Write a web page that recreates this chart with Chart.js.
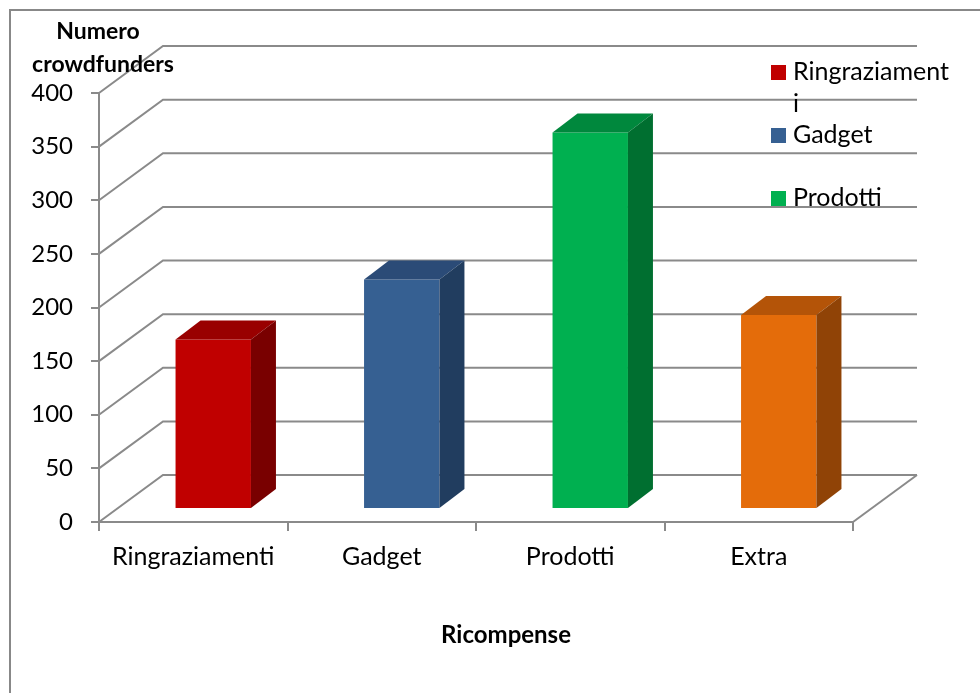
<!DOCTYPE html>
<html>
<head>
<meta charset="utf-8">
<script src="https://cdn.jsdelivr.net/npm/chart.js@4/dist/chart.umd.min.js"></script>
<style>
  html, body { margin: 0; padding: 0; background: #fff; }
  #wrap { width: 980px; height: 693px; position: relative; }
</style>
</head>
<body>
<div id="wrap"><canvas id="chart"></canvas></div>
<script>
// --- data ---
const categories = ['Ringraziamenti', 'Gadget', 'Prodotti', 'Extra'];
const crowdfunders = [158, 214, 351, 181];
const yMin = 0, yMax = 400, yStep = 50;
const legendLabels = [['Ringraziament', 'i'], ['Gadget'], ['Prodotti']];
const yTitle = ['Numero', 'crowdfunders'];
const xTitle = 'Ricompense';

// --- styles ---
const frontColors = ['#C00000', '#366092', '#00B050', '#E46C0A'];
const topColors = ['#990000', '#2B4B77', '#00883D', '#B45408'];
const sideColors = ['#790000', '#213D5F', '#006F30', '#904306'];
const gridColor = '#8a8a8a';
const FONT = 'Lato';
const wallDX = 64, wallDY = -47;   // depth of the back wall
const barDX = 20, barDY = -13;     // bars sit a bit behind the front plane
const faceDX = 25, faceDY = -19;   // bar depth

const wallPlugin = {
    id: 'wall',
    beforeDraw(chart) {
        const ctx = chart.ctx;
        ctx.save();
        ctx.fillStyle = '#fff';
        ctx.fillRect(0, 0, chart.width, chart.height);
        // outer frame
        ctx.strokeStyle = '#888';
        ctx.lineWidth = 2;
        ctx.strokeRect(10, 10, chart.width + 20, chart.height + 20);
        ctx.restore();
    },
    beforeDatasetsDraw(chart) {
        const ctx = chart.ctx;
        const a = chart.chartArea;
        const ys = chart.scales.y;
        ctx.save();
        ctx.strokeStyle = gridColor;
        ctx.lineWidth = 2;
        for (let v = yMin; v <= yMax; v += yStep) {
            const y = ys.getPixelForValue(v);
            ctx.beginPath();
            ctx.moveTo(a.left, y);
            ctx.lineTo(a.left + wallDX, y + wallDY);
            ctx.lineTo(a.right + wallDX, y + wallDY);
            ctx.stroke();
        }
        // floor right edge
        ctx.beginPath();
        ctx.moveTo(a.right, a.bottom);
        ctx.lineTo(a.right + wallDX, a.bottom + wallDY);
        ctx.stroke();
        ctx.restore();

        // shift bars into depth
        ctx.save();
        ctx.translate(barDX, barDY);
    },
    afterDatasetsDraw(chart) {
        const ctx = chart.ctx;
        const meta = chart.getDatasetMeta(0);
        meta.data.forEach((bar, i) => {
            const p = bar.getProps(['x', 'y', 'base', 'width'], true);
            const l = p.x - p.width / 2, r = p.x + p.width / 2;
            const t = p.y, b = p.base;
            ctx.fillStyle = topColors[i];
            ctx.beginPath();
            ctx.moveTo(l, t);
            ctx.lineTo(l + faceDX, t + faceDY);
            ctx.lineTo(r + faceDX, t + faceDY);
            ctx.lineTo(r, t);
            ctx.closePath();
            ctx.fill();
            ctx.fillStyle = sideColors[i];
            ctx.beginPath();
            ctx.moveTo(r, t);
            ctx.lineTo(r + faceDX, t + faceDY);
            ctx.lineTo(r + faceDX, b + faceDY);
            ctx.lineTo(r, b);
            ctx.closePath();
            ctx.fill();
        });
        ctx.restore();
    },
    afterDraw(chart) {
        const ctx = chart.ctx;
        ctx.save();
        ctx.fillStyle = '#000';
        ctx.textAlign = 'center';
        ctx.textBaseline = 'alphabetic';
        ctx.font = 'bold 23px ' + FONT;
        ctx.fillText(yTitle[0], 98, 39);
        ctx.fillText(yTitle[1], 103, 72);
        ctx.font = 'bold 24px ' + FONT;
        ctx.fillText(xTitle, 506, 643);

        // legend
        ctx.textAlign = 'left';
        ctx.font = '25px ' + FONT;
        const rows = [80, 143, 206];
        legendLabels.forEach((lines, i) => {
            ctx.fillStyle = frontColors[i];
            ctx.fillRect(771, rows[i] - 15, 15, 15);
            ctx.fillStyle = '#000';
            lines.forEach((s, k) => ctx.fillText(s, 793, rows[i] + k * 32));
        });
        ctx.restore();
    }
};

new Chart(document.getElementById('chart'), {
    type: 'bar',
    data: {
        labels: categories,
        datasets: [{
            label: 'Numero crowdfunders',
            data: crowdfunders,
            backgroundColor: frontColors,
            borderWidth: 0,
            barPercentage: 0.4,
            categoryPercentage: 1.0
        }]
    },
    options: {
        responsive: true,
        maintainAspectRatio: false,
        animation: false,
        events: [],
        layout: { padding: { left: 0, top: 93, right: 127, bottom: 0 } },
        plugins: {
            legend: { display: false },
            tooltip: { enabled: false }
        },
        scales: {
            x: {
                offset: true,
                grid: { display: true, drawOnChartArea: false, offset: true, tickLength: 9, color: gridColor, lineWidth: 2 },
                border: { display: true, color: gridColor, width: 2 },
                ticks: { color: '#000', font: { family: FONT, size: 25 }, padding: 11, maxRotation: 0 },
                afterFit(s) { s.height = 171; }
            },
            y: {
                min: yMin,
                max: yMax,
                grid: { display: true, drawOnChartArea: false, tickLength: 8, color: gridColor, lineWidth: 2 },
                border: { display: true, color: gridColor, width: 2 },
                ticks: { stepSize: yStep, color: '#000', font: { family: FONT, size: 24 }, padding: 18 },
                afterFit(s) { s.width = 99; }
            }
        }
    },
    plugins: [wallPlugin]
});
</script>
</body>
</html>
